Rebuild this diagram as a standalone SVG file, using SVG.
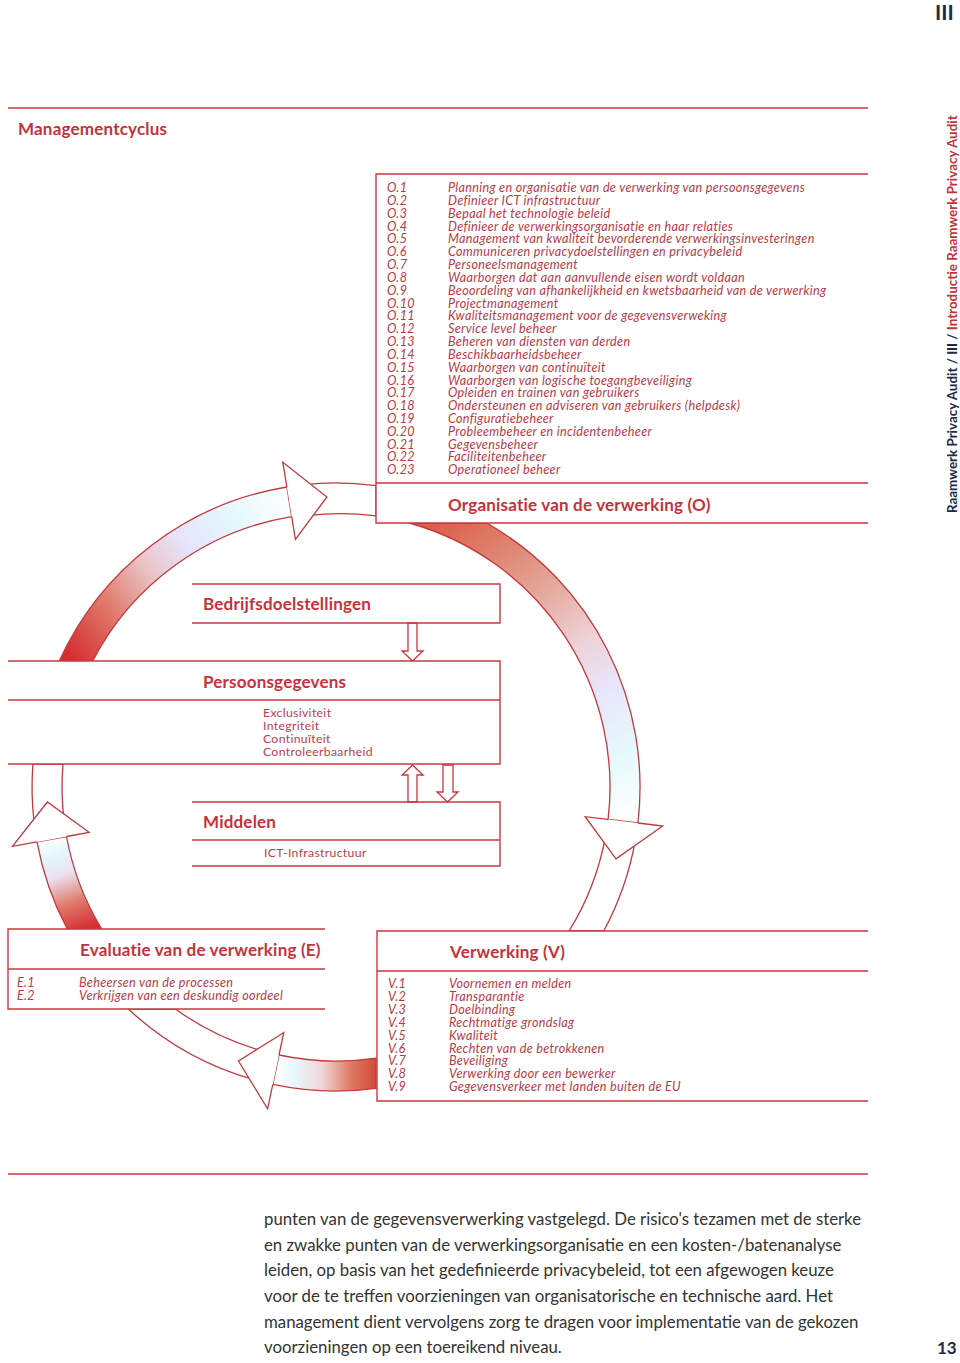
<svg xmlns="http://www.w3.org/2000/svg" width="960" height="1363" viewBox="0 0 960 1363">
<defs>
<style>
.ln{stroke:#c8393f;stroke-width:1.4;fill:none}
.bx{fill:#ffffff;stroke:none}
.arc{stroke:#c0393f;stroke-width:1.3;stroke-linejoin:miter}
.head{fill:#ffffff;stroke:#c0393f;stroke-width:1.3}
.band{fill:#ffffff;stroke:#c0393f;stroke-width:1.3}
.ha{fill:#ffffff;stroke:#c8393f;stroke-width:1.3}
.h{font-family:Lato,"Open Sans",sans-serif;font-weight:bold;font-size:17px;letter-spacing:0.2px;fill:#c4323c}
.it{font-family:Lato,"Open Sans",sans-serif;font-style:italic;font-size:12.6px;letter-spacing:0.32px;fill:#b83a48}
.rg{font-family:Lato,"Open Sans",sans-serif;font-size:12.2px;letter-spacing:0.35px;fill:#b8404c}
.p{font-family:Lato,"Liberation Sans",sans-serif;font-size:16.8px;fill:#333333}
.nv{font-family:Lato,"Open Sans",sans-serif;font-weight:bold;fill:#1c2b4a}
</style>
<linearGradient id="gTL" gradientUnits="userSpaceOnUse" x1="75" y1="661" x2="290" y2="495">
<stop offset="0" stop-color="#d52f33"/>
<stop offset="0.22" stop-color="#e07a6a"/>
<stop offset="0.42" stop-color="#ebc4c8"/>
<stop offset="0.58" stop-color="#e6e4fa"/>
<stop offset="0.78" stop-color="#e4f8fc"/>
<stop offset="1" stop-color="#ffffff"/>
</linearGradient>
<linearGradient id="gR" gradientUnits="userSpaceOnUse" x1="440" y1="523" x2="625" y2="822">
<stop offset="0" stop-color="#d9604a"/>
<stop offset="0.3" stop-color="#e4a494"/>
<stop offset="0.5" stop-color="#edd2d8"/>
<stop offset="0.65" stop-color="#e8e6fa"/>
<stop offset="0.85" stop-color="#e6fafc"/>
<stop offset="1" stop-color="#ffffff"/>
</linearGradient>
<linearGradient id="gBL" gradientUnits="userSpaceOnUse" x1="85" y1="929" x2="52" y2="838">
<stop offset="0" stop-color="#d52f33"/>
<stop offset="0.3" stop-color="#e07a6a"/>
<stop offset="0.6" stop-color="#ebe0f0"/>
<stop offset="0.82" stop-color="#e4f6fc"/>
<stop offset="1" stop-color="#ffffff"/>
</linearGradient>
<linearGradient id="gB" gradientUnits="userSpaceOnUse" x1="376" y1="1070" x2="276" y2="1070">
<stop offset="0" stop-color="#d24a3a"/>
<stop offset="0.25" stop-color="#de7a64"/>
<stop offset="0.55" stop-color="#f0d8d8"/>
<stop offset="0.82" stop-color="#e8f8fc"/>
<stop offset="1" stop-color="#ffffff"/>
</linearGradient>
</defs>
<rect width="960" height="1363" fill="#ffffff"/>

<g id="connectors">
<path class="band" d="M 302.3 484.8 A 304 304 0 0 1 376 485.6 L 376 515.9 A 274 274 0 0 0 307.4 515.6 Z"/>
<path class="arc" fill="url(#gTL)" d="M 59.3 661 A 304 304 0 0 1 286.9 487 L 291.7 516.6 A 274 274 0 0 0 92.7 661 Z"/>
<path class="head" d="M 286.9 487 L 282.8 462.3 L 326.9 497 L 295.4 539.3 L 291.7 516.6"/>
<path class="band" d="M 635.4 839.8 A 304 304 0 0 1 603.7 931 L 569.1 931 A 274 274 0 0 0 605.8 834.6 Z"/>
<path class="arc" fill="url(#gR)" d="M 486.7 523 A 304 304 0 0 1 637.9 823 L 608.1 819.4 A 274 274 0 0 0 409.3 523 Z"/>
<path class="head" d="M 637.9 823 L 662.7 826 L 616 858.9 L 585.2 816.7 L 608.1 819.4"/>
<path class="band" d="M 252.2 1079.2 A 304 304 0 0 1 128.3 1009 L 175.4 1009 A 274 274 0 0 0 260.5 1050.4 Z"/>
<path class="arc" fill="url(#gB)" d="M 376 1088.4 A 304 304 0 0 1 272.8 1084.4 L 279 1055 A 274 274 0 0 0 376 1058.1 Z"/>
<path class="head" d="M 272.8 1084.4 L 267.6 1108.8 L 238.5 1061 L 283.8 1032.5 L 279 1055"/>
<path class="band" d="M 34 821.4 A 304 304 0 0 1 32.9 764 L 63 764 A 274 274 0 0 0 63.8 818 Z"/>
<path class="arc" fill="url(#gBL)" d="M 67.2 929 A 304 304 0 0 1 37 841.9 L 66.5 836.5 A 274 274 0 0 0 101.7 929 Z"/>
<path class="head" d="M 37 841.9 L 12.4 846.4 L 47.4 802 L 89.1 832.3 L 66.5 836.5"/>
<path class="ha" d="M 408 623 L 417 623 L 417 651 L 423 651 L 412.5 661 L 402 651 L 408 651 Z"/>
<path class="ha" d="M 408 802 L 408 775 L 402 775 L 412.5 765 L 423 775 L 417 775 L 417 802 Z"/>
<path class="ha" d="M 443 765 L 453 765 L 453 792 L 458 792 L 447.5 802 L 437 792 L 443 792 Z"/>
</g>

<g id="page">
<line class="ln" x1="8" y1="108" x2="868" y2="108"/>
<line class="ln" x1="8" y1="1174" x2="868" y2="1174"/>
<text class="h" x="18" y="135">Managementcyclus</text>
<text class="nv" x="935" y="20" font-size="21">III</text>
<text class="nv" x="937" y="1354" font-size="17">13</text>
<text transform="translate(957,513) rotate(-90)" font-family="Lato,'Open Sans',sans-serif" font-weight="bold" font-size="13.4"><tspan fill="#1c2b4a">Raamwerk Privacy Audit / III / </tspan><tspan fill="#c4323c">Introductie Raamwerk Privacy Audit</tspan></text>
<g class="p">
<text x="264" y="1225">punten van de gegevensverwerking vastgelegd. De risico's tezamen met de sterke</text>
<text x="264" y="1251">en zwakke punten van de verwerkingsorganisatie en een kosten-/batenanalyse</text>
<text x="264" y="1276">leiden, op basis van het gedefinieerde privacybeleid, tot een afgewogen keuze</text>
<text x="264" y="1302">voor de te treffen voorzieningen van organisatorische en technische aard. Het</text>
<text x="264" y="1328">management dient vervolgens zorg te dragen voor implementatie van de gekozen</text>
<text x="264" y="1353">voorzieningen op een toereikend niveau.</text>
</g>
</g>

<g id="node-O">
<rect class="bx" x="376" y="174" width="492" height="349"/>
<path class="ln" d="M 868 174 L 376 174 L 376 523 L 868 523 M 376 483 L 868 483"/>
<g class="it">
<text x="387" y="192">O.1</text><text x="448" y="192">Planning en organisatie van de verwerking van persoonsgegevens</text>
<text x="387" y="204.8">O.2</text><text x="448" y="204.8">Definieer ICT infrastructuur</text>
<text x="387" y="217.7">O.3</text><text x="448" y="217.7">Bepaal het technologie beleid</text>
<text x="387" y="230.5">O.4</text><text x="448" y="230.5">Definieer de verwerkingsorganisatie en haar relaties</text>
<text x="387" y="243.3">O.5</text><text x="448" y="243.3">Management van kwaliteit bevorderende verwerkingsinvesteringen</text>
<text x="387" y="256.2">O.6</text><text x="448" y="256.2">Communiceren privacydoelstellingen en privacybeleid</text>
<text x="387" y="269">O.7</text><text x="448" y="269">Personeelsmanagement</text>
<text x="387" y="281.8">O.8</text><text x="448" y="281.8">Waarborgen dat aan aanvullende eisen wordt voldaan</text>
<text x="387" y="294.6">O.9</text><text x="448" y="294.6">Beoordeling van afhankelijkheid en kwetsbaarheid van de verwerking</text>
<text x="387" y="307.5">O.10</text><text x="448" y="307.5">Projectmanagement</text>
<text x="387" y="320.3">O.11</text><text x="448" y="320.3">Kwaliteitsmanagement voor de gegevensverweking</text>
<text x="387" y="333.1">O.12</text><text x="448" y="333.1">Service level beheer</text>
<text x="387" y="346">O.13</text><text x="448" y="346">Beheren van diensten van derden</text>
<text x="387" y="358.8">O.14</text><text x="448" y="358.8">Beschikbaarheidsbeheer</text>
<text x="387" y="371.6">O.15</text><text x="448" y="371.6">Waarborgen van continuïteit</text>
<text x="387" y="384.5">O.16</text><text x="448" y="384.5">Waarborgen van logische toegangbeveiliging</text>
<text x="387" y="397.3">O.17</text><text x="448" y="397.3">Opleiden en trainen van gebruikers</text>
<text x="387" y="410.1">O.18</text><text x="448" y="410.1">Ondersteunen en adviseren van gebruikers (helpdesk)</text>
<text x="387" y="422.9">O.19</text><text x="448" y="422.9">Configuratiebeheer</text>
<text x="387" y="435.8">O.20</text><text x="448" y="435.8">Probleembeheer en incidentenbeheer</text>
<text x="387" y="448.6">O.21</text><text x="448" y="448.6">Gegevensbeheer</text>
<text x="387" y="461.4">O.22</text><text x="448" y="461.4">Faciliteitenbeheer</text>
<text x="387" y="474.3">O.23</text><text x="448" y="474.3">Operationeel beheer</text>
</g>
<text class="h" x="448" y="511">Organisatie van de verwerking (O)</text>
</g>

<g id="node-bedrijfsdoelstellingen">
<path class="ln" d="M 192 584 L 500 584 L 500 623 L 192 623"/>
<text class="h" x="203" y="610">Bedrijfsdoelstellingen</text>
</g>

<g id="node-persoonsgegevens">
<rect class="bx" x="8" y="661" width="492" height="103"/>
<path class="ln" d="M 8 661 L 500 661 L 500 764 L 8 764 M 8 700 L 500 700"/>
<text class="h" x="203" y="688">Persoonsgegevens</text>
<g class="rg">
<text x="263" y="717">Exclusiviteit</text>
<text x="263" y="730">Integriteit</text>
<text x="263" y="743">Continuïteit</text>
<text x="263" y="756">Controleerbaarheid</text>
</g>
</g>

<g id="node-middelen">
<path class="ln" d="M 192 802 L 500 802 L 500 866 L 192 866 M 192 840 L 500 840"/>
<text class="h" x="203" y="828">Middelen</text>
<text class="rg" x="264" y="857">ICT-Infrastructuur</text>
</g>

<g id="node-E">
<rect class="bx" x="8" y="929" width="317" height="80"/>
<path class="ln" d="M 325 929 L 8 929 L 8 1009 L 325 1009 M 8 969 L 325 969"/>
<text class="h" x="80" y="956">Evaluatie van de verwerking (E)</text>
<g class="it">
<text x="17" y="987">E.1</text><text x="79" y="987">Beheersen van de processen</text>
<text x="17" y="1000">E.2</text><text x="79" y="1000">Verkrijgen van een deskundig oordeel</text>
</g>
</g>

<g id="node-V">
<rect class="bx" x="377" y="931" width="491" height="170"/>
<path class="ln" d="M 868 931 L 377 931 L 377 1101 L 868 1101 M 377 971 L 868 971"/>
<text class="h" x="450" y="958">Verwerking (V)</text>
<g class="it">
<text x="388" y="988">V.1</text><text x="449" y="988">Voornemen en melden</text>
<text x="388" y="1000.9">V.2</text><text x="449" y="1000.9">Transparantie</text>
<text x="388" y="1013.8">V.3</text><text x="449" y="1013.8">Doelbinding</text>
<text x="388" y="1026.7">V.4</text><text x="449" y="1026.7">Rechtmatige grondslag</text>
<text x="388" y="1039.6">V.5</text><text x="449" y="1039.6">Kwaliteit</text>
<text x="388" y="1052.5">V.6</text><text x="449" y="1052.5">Rechten van de betrokkenen</text>
<text x="388" y="1065.4">V.7</text><text x="449" y="1065.4">Beveiliging</text>
<text x="388" y="1078.3">V.8</text><text x="449" y="1078.3">Verwerking door een bewerker</text>
<text x="388" y="1091.2">V.9</text><text x="449" y="1091.2">Gegevensverkeer met landen buiten de EU</text>
</g>
</g>
</svg>
